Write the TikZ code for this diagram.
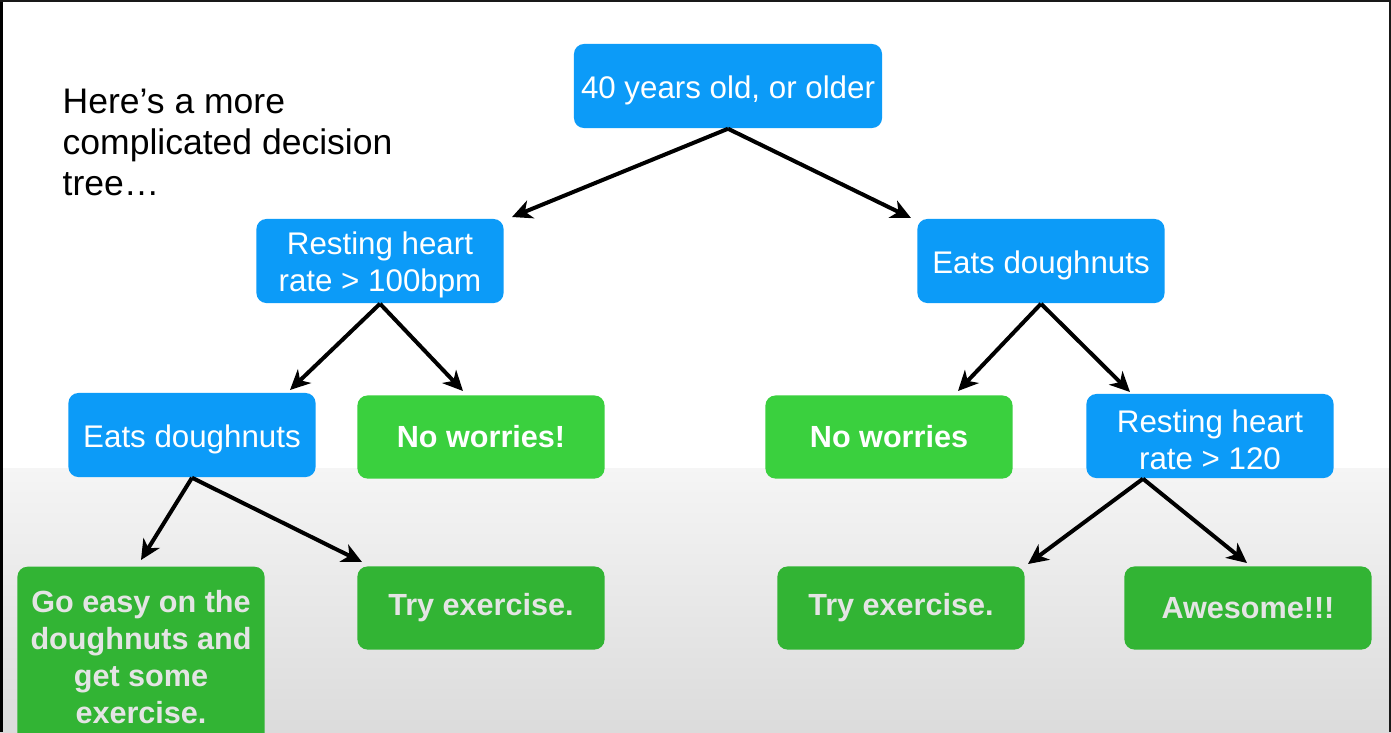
\documentclass[tikz,border=0pt]{standalone}
\usepackage{fontspec}
\setmainfont{Liberation Sans}
\usetikzlibrary{arrows.meta}

\definecolor{boxblue}{RGB}{12,155,248}
\definecolor{leafgreen}{RGB}{58,208,62}
\definecolor{darkgreen}{RGB}{50,180,52}
\definecolor{leaftext}{RGB}{228,228,228}

\newcommand{\firstline}{\rule{0pt}{8.8pt}}

\begin{document}
\begin{tikzpicture}[x=0.01cm, y=-0.01cm,
    question/.style={fill=boxblue, text=white, rounded corners=0.1cm,
      minimum width=2.47cm, minimum height=0.84cm, align=center,
      font=\fontsize{8.9}{10.5}\selectfont},
    twoline/.style={question, inner ysep=1pt},
    answer/.style={fill=leafgreen, text=white, rounded corners=0.1cm,
      minimum width=2.47cm, minimum height=0.83cm, align=center,
      font=\fontsize{8.7}{10.5}\selectfont\bfseries},
    advice/.style={answer, fill=darkgreen, text=leaftext},
    arr/.style={-{Stealth[length=0.2cm, width=0.19cm, inset=0.06cm]}, line width=0.04cm}]

  \clip (0, 0) rectangle (1391, 732);
  \fill[white] (0, 0) rectangle (1391, 468);
  \shade[top color=gray!8, bottom color=gray!28] (0, 468) rectangle (1391, 732);
  \fill[black] (0, 0) rectangle (3, 732);
  \fill[black!90] (0, 0) rectangle (1391, 1.5);
  \fill[black!90] (1388.5, 0) rectangle (1391, 732);

  \node[anchor=north west, inner sep=0, align=left,
        font=\fontsize{10.1}{11.7}\selectfont] (intro) at (62, 88)
        {Here’s a more\\complicated decision\\tree…};

  \node[question, minimum width=3.05cm, inner xsep=2pt] (root) at (728, 86)
        {\firstline 40 years old, or older};
  \node[twoline]  (restL)  at (380, 261) {\firstline Resting heart\\rate > 100bpm};
  \node[question] (eatsR)  at (1041, 261) {\firstline Eats doughnuts};

  \node[question] (eatsL)  at (192, 435)  {\firstline Eats doughnuts};
  \node[answer]   (okL)    at (481, 437)  {No worries!};
  \node[answer]   (okR)    at (889, 437)  {No worries};
  \node[twoline]  (restR)  at (1210, 436) {\firstline Resting heart\\rate > 120};

  \node[advice, anchor=north, minimum height=1.8cm] (easyL) at (141, 566)
        {Go easy on the\\doughnuts and\\get some\\exercise.};
  \node[advice] (tryL)    at (481, 608)  {Try exercise.};
  \node[advice] (tryR)    at (901, 608)  {Try exercise.};
  \node[advice] (awesome) at (1248, 608) {Awesome!!!};

  \coordinate (toRestL) at (512, 217);
  \coordinate (toEatsR) at (911, 218);
  \coordinate (toEatsL) at (290, 390);
  \coordinate (toOkL)   at (463, 391);
  \coordinate (toOkR)   at (958, 391);
  \coordinate (toRestR) at (1130, 392);
  \coordinate (toEasyL) at (141, 560);
  \coordinate (toTryL)  at (362, 562);
  \coordinate (toTryR)  at (1028, 564);
  \coordinate (toAwe)   at (1247, 563);

  \draw[arr] (root.south) -- (toRestL);
  \draw[arr] (root.south) -- (toEatsR);
  \draw[arr] (restL.south) -- (toEatsL);
  \draw[arr] (restL.south) -- (toOkL);
  \draw[arr] (eatsR.south) -- (toOkR);
  \draw[arr] (eatsR.south) -- (toRestR);
  \draw[arr] (eatsL.south) -- (toEasyL);
  \draw[arr] (eatsL.south) -- (toTryL);
  \draw[arr] ([xshift=-0.67cm]restR.south) -- (toTryR);
  \draw[arr] ([xshift=-0.67cm]restR.south) -- (toAwe);

\end{tikzpicture}
\end{document}
